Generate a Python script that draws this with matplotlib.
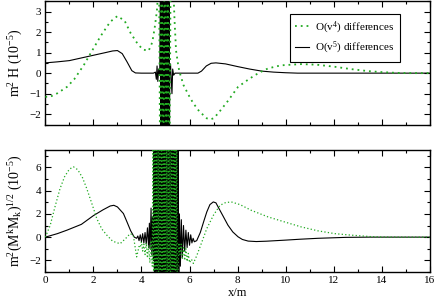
import numpy as np
import matplotlib
matplotlib.use('Agg')
import matplotlib.pyplot as plt
from matplotlib.ticker import MultipleLocator

plt.rcParams['font.family'] = ['Liberation Serif', 'DejaVu Serif']
plt.rcParams['mathtext.default'] = 'regular'

# top panel: m^2 H, O(v^4) differences (green dotted)
h4_x = [0, 0.2, 0.5, 0.9, 1.2, 1.6, 2.0, 2.3, 2.7, 3.0, 3.3, 3.55, 3.8, 4.05, 4.3,
        4.45, 4.55, 4.64, 4.7]
h4_y = [-1.15, -1.15, -0.98, -0.67, -0.3, 0.39, 1.2, 1.8, 2.5, 2.78, 2.55, 1.95,
        1.5, 1.15, 1.09, 1.5, 2.2, 3.0, 4.0]
h4_burst = [8, -6, 7, -7, 8, -6, 7, -8, 6, 8]
h4_x2 = [5.33, 5.38, 5.44, 5.54, 5.6, 5.75, 6.0, 6.16, 6.4, 6.72, 6.86, 7.0, 7.19,
         7.6, 8.02, 8.4, 8.72, 9.0, 9.27, 9.8, 10.65, 11.3, 12.05, 12.7, 13.43,
         14.0, 14.5, 15.0, 16.0]
h4_y2 = [4.0, 2.5, 1.1, 0.3, 0.0, -0.58, -1.15, -1.47, -1.85, -2.2, -2.25, -2.2,
         -1.96, -1.35, -0.67, -0.35, -0.1, 0.08, 0.23, 0.38, 0.44, 0.41, 0.31, 0.2,
         0.1, 0.05, 0.02, 0.0, 0.0]

# top panel: O(v^5) differences (black solid)
h5_x = [0, 0.5, 1.0, 1.5, 2.0, 2.5, 2.8, 3.0, 3.2, 3.4, 3.6, 3.75, 4.0, 4.5, 4.58,
        4.62, 4.65, 4.68, 4.72, 4.76]
h5_y = [0.5, 0.55, 0.61, 0.74, 0.87, 1.0, 1.08, 1.1, 0.95, 0.55, 0.12, 0.01, 0.0,
        0.0, 0.05, -0.3, 0.35, -0.4, 0.2, -0.1]
h5_burst = [6, -6, 7, -5, 6, -7, 5, -6, 7, -6, 6, -5, 7, -6, 5, -7, 6, -6, 7, -5,
            6, -7, 5, -6]
h5_x2 = [5.18, 5.21, 5.24, 5.27, 5.3, 5.34, 5.4, 6.0, 6.35, 6.5, 6.7, 6.9, 7.1, 7.5,
         8.0, 8.5, 9.0, 9.5, 10.0, 10.5, 16.0]
h5_y2 = [0.3, 0.45, -0.3, -1.0, 0.2, -0.1, 0.0, 0.0, 0.0, 0.1, 0.35, 0.48, 0.5, 0.45,
         0.32, 0.2, 0.1, 0.05, 0.02, 0.0, 0.0]

# bottom panel: m^2 (M^k M_k)^1/2, O(v^4)
m4_x = [0, 0.2, 0.4, 0.61, 0.8, 1.0, 1.17, 1.35, 1.55, 1.72, 1.95, 2.14, 2.35, 2.56,
        2.8, 3.11, 3.35, 3.53, 3.66, 3.8, 3.9, 3.95, 4.0, 4.05, 4.1, 4.15, 4.2, 4.25,
        4.3, 4.35, 4.4, 4.45]
m4_y = [0, 1.0, 2.6, 4.17, 5.2, 5.85, 6.05, 5.8, 5.1, 4.2, 2.8, 1.6, 0.7, 0.17,
        -0.35, -0.57, -0.1, 0.3, 0.17, -1.7, -0.8, -0.9, -0.4, -1.2, -0.6, -1.5,
        -0.5, -1.8, -0.7, -2.2, -0.3, -2.5]
m4_burst = [10, -9, 12, -11, 9, -12, 11, -10, 12, -9, 10, -11, 12, -10, 9, -12, 11,
            -9, 10, -12, 11, -10, 9, -11, 12, -9, 10, -12, 11, -10]
m4_x2 = [5.52, 5.56, 5.6, 5.65, 5.7, 5.75, 5.8, 5.85, 5.9, 5.95, 6.0, 6.08, 6.16,
         6.3, 6.5, 6.72, 7.0, 7.27, 7.5, 7.74, 8.1, 8.58, 9.27, 9.97, 10.65, 11.35,
         12.05, 12.74, 13.5, 14.0, 15.0, 16.0]
m4_y2 = [-3.0, -0.5, -1.5, -0.6, -1.8, -0.9, -2.0, -1.0, -2.1, -1.4, -2.2, -1.9,
         -2.26, -1.6, -0.5, 0.74, 1.9, 2.74, 2.97, 3.03, 2.8, 2.3, 1.74, 1.3, 0.88,
         0.54, 0.3, 0.17, 0.05, 0.01, 0.0, 0.0]

# bottom panel: O(v^5)
m5_x = [0, 0.5, 0.9, 1.5, 2.0, 2.4, 2.7, 2.85, 3.0, 3.25, 3.4, 3.55, 3.7, 3.8, 3.85,
        3.9, 3.95, 4.0, 4.05, 4.1, 4.15, 4.2, 4.25, 4.3, 4.33, 4.36, 4.4, 4.43,
        4.46, 4.5]
m5_y = [0, 0.3, 0.6, 1.1, 1.85, 2.35, 2.68, 2.74, 2.6, 2.03, 1.3, 0.55, 0.0, -0.1,
        0.1, -0.3, 0.2, -0.4, 0.3, -0.5, 0.4, -0.6, 0.8, -0.9, 1.2, -1.0, 2.5, -1.5,
        1.8, -2.0]
m5_burst = [11, -10, 12, -12, 10, -11, 12, -10, 11, -12, 10, -11, 12, -10, 11, -12,
            10, -11, 12, -10, 11, -12, 10, -11, 12, -10, 11, -12, 10, -11, 12, -10,
            11, -12, 10, -11, 12, -10, 11, -12]
m5_x2 = [5.58, 5.62, 5.66, 5.7, 5.75, 5.8, 5.85, 5.9, 5.95, 6.0, 6.05, 6.1, 6.15, 6.2,
         6.3, 6.45, 6.6, 6.72, 6.85, 6.99, 7.1, 7.19, 7.4, 7.6, 7.8, 8.02, 8.2, 8.44,
         8.78, 9.2, 9.97, 10.6, 11.35, 12.5, 13.5, 16.0]
m5_y2 = [2.0, -2.5, 1.5, -1.8, 1.0, -1.2, 0.6, -0.9, 0.4, -0.7, 0.2, -0.5, -0.1,
         -0.4, -0.3, 0.4, 1.4, 2.17, 2.8, 3.03, 2.95, 2.6, 1.8, 1.03, 0.45, 0.03,
         -0.2, -0.34, -0.38, -0.35, -0.26, -0.18, -0.1, -0.02, 0.0, 0.0]


def join(x1, y1, x0, x1b, burst, x2, y2):
    xb = np.linspace(x0, x1b, len(burst))
    return (np.concatenate([x1, xb, x2]), np.concatenate([y1, burst, y2]))


green = '#22aa22'

fig = plt.figure(figsize=(4.36, 2.97), dpi=100)
ax1 = fig.add_axes([0.104, 0.5808, 0.8817, 0.415])
ax2 = fig.add_axes([0.104, 0.0842, 0.8817, 0.4108])

x, y = join(h4_x, h4_y, 4.72, 5.28, h4_burst, h4_x2, h4_y2)
ax1.plot(x, y, color=green, lw=1.3, ls=(0, (1, 2.2)),
         label='O(v$^{4}$) differences', zorder=3)
x, y = join(h5_x, h5_y, 4.80, 5.16, h5_burst, h5_x2, h5_y2)
ax1.plot(x, y, color='black', lw=0.8, label='O(v$^{5}$) differences', zorder=2)

x, y = join(m5_x, m5_y, 4.52, 5.55, m5_burst, m5_x2, m5_y2)
ax2.plot(x, y, color='black', lw=0.8, zorder=2)
x, y = join(m4_x, m4_y, 4.48, 5.5, m4_burst, m4_x2, m4_y2)
ax2.plot(x, y, color=green, lw=0.9, ls=(0, (1, 1.8)), zorder=3)

ax1.set_ylim(-2.5, 3.5)
ax2.set_ylim(-3, 7.5)
ax1.yaxis.set_major_locator(MultipleLocator(1))
ax1.yaxis.set_minor_locator(MultipleLocator(0.5))
ax2.yaxis.set_major_locator(MultipleLocator(2))
ax2.yaxis.set_minor_locator(MultipleLocator(1))
for ax in (ax1, ax2):
    ax.set_xlim(0, 16)
    ax.xaxis.set_major_locator(MultipleLocator(2))
    ax.xaxis.set_minor_locator(MultipleLocator(1))
    ax.tick_params(which='both', direction='in', top=True, right=True,
                   labelsize=8, pad=3)
    ax.tick_params(which='major', length=4, width=0.8)
    ax.tick_params(which='minor', length=2, width=0.8)
    for s in ax.spines.values():
        s.set_linewidth(1.0)
ax1.tick_params(labelbottom=False)

ax1.set_ylabel('m$^{2}$ H (10$^{-5}$)', fontsize=10, labelpad=3)
ax2.set_ylabel('m$^{2}$(M$^{k}$M$_{k}$)$^{1/2}$ (10$^{-5}$)', fontsize=10, labelpad=3)
ax2.set_xlabel('x/m', fontsize=9, labelpad=1)
fig.align_ylabels([ax1, ax2])

leg = ax1.legend(loc='upper right', bbox_to_anchor=(0.9227, 0.8966), fontsize=8,
                 fancybox=False, framealpha=1, edgecolor='black', handlelength=1.2,
                 handletextpad=0.6, borderpad=0.5, labelspacing=0.4, borderaxespad=0)
leg.get_frame().set_linewidth(0.8)

fig.savefig('out.png', dpi=100)
